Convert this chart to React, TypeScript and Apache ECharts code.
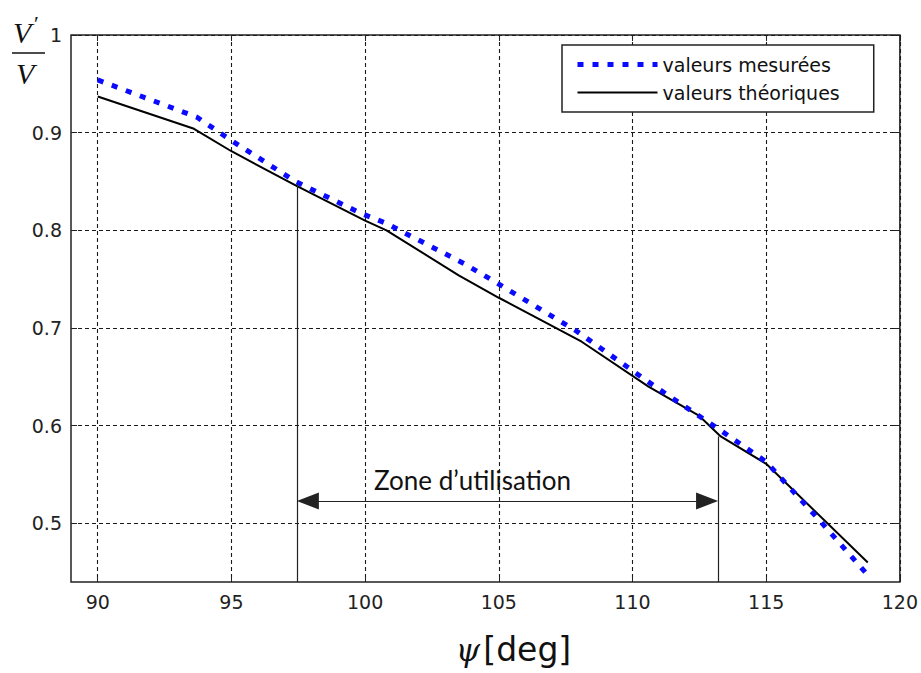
import React, { useEffect, useRef } from "react";
import * as echarts from "echarts";

// ---- data ----
const xTicks = [90, 95, 100, 105, 110, 115, 120];
const yTicks = [0.5, 0.6, 0.7, 0.8, 0.9, 1];

const psiMeasured = [90, 93.7, 95, 97.4, 99.8, 100.8, 103.7, 105, 107.9, 110.9, 113.2, 115, 117, 118.8];
const vMeasured = [0.954, 0.916, 0.892, 0.85, 0.818, 0.807, 0.766, 0.745, 0.697, 0.639, 0.597, 0.563, 0.503, 0.447];

const psiTheory = [90, 93.6, 95, 97.4, 100, 100.8, 103.5, 105, 108.1, 110.6, 112.5, 113.3, 115, 118.8];
const vTheory = [0.937, 0.904, 0.881, 0.846, 0.81, 0.8, 0.754, 0.731, 0.686, 0.64, 0.61, 0.589, 0.561, 0.46];

// zone d'utilisation annotation (data space)
const zoneBounds = [97.45, 113.2];
const zoneTops = [0.847, 0.589];
const zoneArrowLevel = 0.523;
const arrowInset = 0.41;

const X_MIN = 89;
const X_MAX = 120;
const Y_MIN = 0.44;
const Y_MAX = 1;

const NAME_MEAS = "valeurs mesurées";
const NAME_THEO = "valeurs théoriques";

export default function App() {
  const ref = useRef<HTMLDivElement>(null);

  useEffect(() => {
    if (!ref.current) return;
    const chart = echarts.init(ref.current, null, { renderer: "svg" });

    const gridDash = { type: [4, 3], color: "#1a1a1a", width: 1.1 };
    const labelStyle = { fontFamily: "DejaVu Sans", fontSize: 19, color: "#222" };
    const blueDash = [6, 9];

    const option: any = {
      animation: false,
      backgroundColor: "#fff",
      grid: {
        left: 71,
        right: 21,
        top: 35,
        bottom: 91,
        show: true,
        borderColor: "#222",
        borderWidth: 1.5,
        backgroundColor: "transparent",
      },
      legend: {
        orient: "vertical",
        left: 562,
        top: 45,
        itemWidth: 80,
        itemHeight: 14,
        itemGap: 9,
        padding: [10, 34, 10, 13],
        backgroundColor: "#fff",
        borderColor: "#222",
        borderWidth: 1.5,
        borderRadius: 0,
        itemStyle: { opacity: 0 },
        textStyle: { fontFamily: "DejaVu Sans", fontSize: 19, color: "#111" },
        data: [
          { name: NAME_MEAS, lineStyle: { width: 5, type: blueDash, color: "#0a0aff" } },
          { name: NAME_THEO, lineStyle: { width: 2, color: "#000" } },
        ],
      },
      xAxis: [
        {
          type: "value",
          min: X_MIN,
          max: X_MAX,
          position: "bottom",
          axisLine: { show: false },
          axisTick: { show: true, inside: true, length: 6, customValues: xTicks, lineStyle: { color: "#222" } },
          axisLabel: { ...labelStyle, customValues: xTicks, margin: 10 },
          splitLine: { show: true, lineStyle: gridDash },
          name: "{psi|ψ} {deg|[deg]}",
          nameLocation: "middle",
          nameGap: 51,
          nameTextStyle: {
            padding: [0, 0, 0, 56],
            rich: {
              psi: { fontFamily: "DejaVu Serif", fontStyle: "italic", fontSize: 31, color: "#111" },
              deg: { fontFamily: "DejaVu Sans", fontSize: 33, color: "#111" },
            },
          },
        },
        {
          type: "value",
          min: X_MIN,
          max: X_MAX,
          position: "top",
          axisLine: { show: false },
          axisTick: { show: true, inside: true, length: 6, customValues: xTicks, lineStyle: { color: "#222" } },
          axisLabel: { show: false },
          splitLine: { show: false },
        },
      ],
      yAxis: [
        {
          type: "value",
          min: Y_MIN,
          max: Y_MAX,
          position: "left",
          axisLine: { show: false },
          axisTick: { show: true, inside: true, length: 6, customValues: yTicks, lineStyle: { color: "#222" } },
          axisLabel: { ...labelStyle, customValues: yTicks, margin: 9 },
          splitLine: { show: true, lineStyle: gridDash },
        },
        {
          type: "value",
          min: Y_MIN,
          max: Y_MAX,
          position: "right",
          axisLine: { show: false },
          axisTick: { show: true, inside: true, length: 6, customValues: yTicks, lineStyle: { color: "#222" } },
          axisLabel: { show: false },
          splitLine: { show: false },
        },
      ],
      series: [
        {
          type: "line",
          name: NAME_THEO,
          data: psiTheory.map((x, i) => [x, vTheory[i]]),
          symbol: "none",
          lineStyle: { color: "#000", width: 2 },
          itemStyle: { color: "#000" },
          z: 2,
          markLine: {
            silent: true,
            symbol: "none",
            label: { show: false },
            lineStyle: { color: "#222", width: 1.2, type: "solid" },
            emphasis: { disabled: true },
            data: [
              [{ coord: [zoneBounds[0], zoneTops[0]] }, { coord: [zoneBounds[0], Y_MIN] }],
              [{ coord: [zoneBounds[1], zoneTops[1]] }, { coord: [zoneBounds[1], Y_MIN] }],
              [
                { coord: [zoneBounds[0] + arrowInset, zoneArrowLevel], symbol: "triangle", symbolSize: [17, 22] },
                { coord: [zoneBounds[1] - arrowInset, zoneArrowLevel], symbol: "triangle", symbolSize: [17, 22] },
              ],
            ],
          },
        },
        {
          type: "line",
          name: NAME_MEAS,
          data: psiMeasured.map((x, i) => [x, vMeasured[i]]),
          symbol: "none",
          lineStyle: { color: "#0a0aff", width: 5, type: blueDash, cap: "butt" },
          itemStyle: { color: "#0a0aff" },
          z: 3,
        },
      ],
      graphic: [
        {
          type: "text",
          left: 13,
          top: 17,
          style: { text: "V", fontFamily: "Liberation Serif", fontStyle: "italic", fontSize: 30, fill: "#111" },
        },
        {
          type: "text",
          left: 34,
          top: 12,
          style: { text: "′", fontFamily: "Liberation Serif", fontSize: 22, fill: "#111" },
        },
        {
          type: "line",
          shape: { x1: 12, y1: 53, x2: 45, y2: 53 },
          style: { stroke: "#111", lineWidth: 1.5 },
        },
        {
          type: "text",
          left: 16,
          top: 58,
          style: { text: "V", fontFamily: "Liberation Serif", fontStyle: "italic", fontSize: 30, fill: "#111" },
        },
        {
          type: "text",
          left: 374,
          top: 467,
          style: { text: "Zone d’utilisation", fontFamily: "Lato", fontSize: 26, fill: "#111" },
        },
      ],
    };

    chart.setOption(option);
    return () => chart.dispose();
  }, []);

  return (
    <div
      ref={ref}
      style={{ position: "fixed", left: 0, top: 0, width: 921, height: 673, background: "#fff" }}
    />
  );
}
